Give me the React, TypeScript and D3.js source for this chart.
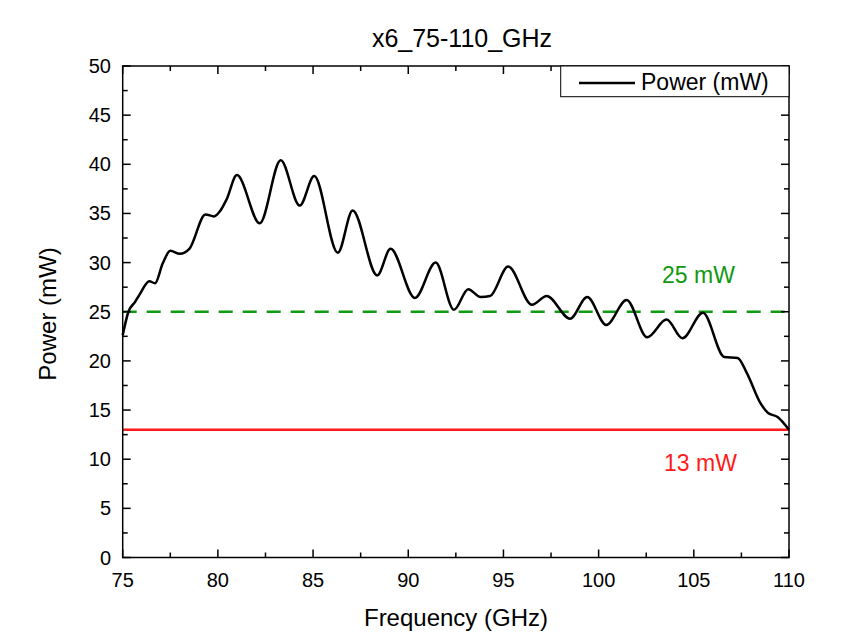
import { curveMonotoneX, line, range, scaleLinear } from "d3";

const frequency = [
  75.0, 75.3, 75.65, 75.9, 76.4, 76.7, 77.1, 77.5, 78.0, 78.5, 79.35, 79.8,
  80.1, 80.45, 81.0, 82.2, 83.3, 84.3, 85.06, 86.3, 87.08, 88.37, 89.07, 90.35,
  91.44, 92.4, 93.15, 93.8, 94.3, 95.25, 96.5, 97.27, 98.5, 99.4, 100.4,
  101.47, 102.55, 103.57, 104.4, 105.48, 106.6, 107.3, 107.8, 108.5, 108.9,
  109.4, 110.0,
];

const power = [
  22.6, 25.0, 26.0, 26.8, 28.1, 27.9, 29.9, 31.2, 30.9, 31.4, 34.9, 34.7,
  35.2, 36.4, 38.9, 34.0, 40.4, 35.8, 38.8, 31.0, 35.3, 28.7, 31.4, 26.4,
  30.0, 25.2, 27.3, 26.5, 26.6, 29.6, 25.7, 26.6, 24.3, 26.5, 23.65,
  26.2, 22.4, 24.2, 22.3, 24.9, 20.4, 20.3, 18.7, 15.7, 14.7,
  14.3, 13.0,
];

const xTicks = [75, 80, 85, 90, 95, 100, 105, 110];
const yTicks = [0, 5, 10, 15, 20, 25, 30, 35, 40, 45, 50];

const targetLevel = 25;
const minimumLevel = 13;

const font = "'Liberation Sans', Arial, sans-serif";

export default function App() {
  const width = 852;
  const height = 642;
  const plot = { left: 122.7, right: 789, top: 66, bottom: 557.5 };

  const x = scaleLinear().domain([75, 110]).range([plot.left, plot.right]);
  const y = scaleLinear().domain([0, 50]).range([plot.bottom, plot.top]);

  const points = frequency.map((f, i) => [f, power[i]] as [number, number]);
  const path = line<[number, number]>()
    .x((d) => x(d[0]))
    .y((d) => y(d[1]))
    .curve(curveMonotoneX)(points);

  const xMinor = range(77.5, 110, 5);
  const yMinor = range(2.5, 50, 5);
  const major = 8;
  const minor = 5;

  return (
    <svg
      width={width}
      height={height}
      style={{ position: "absolute", left: 0, top: 0, background: "#fff" }}
      fontFamily={font}
    >
      <text x={462} y={47} fontSize={25} textAnchor="middle">
        x6_75-110_GHz
      </text>

      {/* threshold lines */}
      <line
        x1={plot.left}
        x2={plot.right}
        y1={y(targetLevel)}
        y2={y(targetLevel)}
        stroke="#119911"
        strokeWidth={2.5}
        strokeDasharray="14 10"
      />
      <line
        x1={plot.left}
        x2={plot.right}
        y1={y(minimumLevel)}
        y2={y(minimumLevel)}
        stroke="#ff1a1a"
        strokeWidth={2.5}
      />
      <text x={662} y={283} fontSize={23} fill="#119911">
        25 mW
      </text>
      <text x={664} y={471} fontSize={23} fill="#ff1a1a">
        13 mW
      </text>

      <path d={path ?? ""} fill="none" stroke="#000" strokeWidth={2.5} />

      {/* frame */}
      <rect
        x={plot.left}
        y={plot.top}
        width={plot.right - plot.left}
        height={plot.bottom - plot.top}
        fill="none"
        stroke="#000"
        strokeWidth={1.5}
      />

      {/* x ticks */}
      <g stroke="#000" strokeWidth={1.5}>
        {xTicks.map((t) => (
          <g key={`xt-${t}`}>
            <line x1={x(t)} x2={x(t)} y1={plot.bottom} y2={plot.bottom - major} />
            <line x1={x(t)} x2={x(t)} y1={plot.top} y2={plot.top + major} />
          </g>
        ))}
        {xMinor.map((t) => (
          <g key={`xm-${t}`}>
            <line x1={x(t)} x2={x(t)} y1={plot.bottom} y2={plot.bottom - minor} />
            <line x1={x(t)} x2={x(t)} y1={plot.top} y2={plot.top + minor} />
          </g>
        ))}
        {yTicks.map((t) => (
          <g key={`yt-${t}`}>
            <line x1={plot.left} x2={plot.left + major} y1={y(t)} y2={y(t)} />
            <line x1={plot.right} x2={plot.right - major} y1={y(t)} y2={y(t)} />
          </g>
        ))}
        {yMinor.map((t) => (
          <g key={`ym-${t}`}>
            <line x1={plot.left} x2={plot.left + minor} y1={y(t)} y2={y(t)} />
            <line x1={plot.right} x2={plot.right - minor} y1={y(t)} y2={y(t)} />
          </g>
        ))}
      </g>

      <g fontSize={20}>
        {xTicks.map((t) => (
          <text key={`xl-${t}`} x={x(t)} y={587} textAnchor="middle">
            {t}
          </text>
        ))}
        {yTicks.map((t) => (
          <text key={`yl-${t}`} x={111} y={y(t) + 7} textAnchor="end">
            {t}
          </text>
        ))}
      </g>

      <text x={456} y={626} fontSize={24} textAnchor="middle">
        Frequency (GHz)
      </text>
      <text
        transform={`translate(56, 314) rotate(-90)`}
        fontSize={24}
        textAnchor="middle"
      >
        Power (mW)
      </text>

      {/* legend */}
      <rect
        x={560.7}
        y={plot.top}
        width={plot.right - 560.7}
        height={30.7}
        fill="#fff"
        stroke="#000"
        strokeWidth={1}
      />
      <line x1={579} x2={635} y1={83} y2={83} stroke="#000" strokeWidth={2.5} />
      <text x={641} y={90} fontSize={23}>
        Power (mW)
      </text>
    </svg>
  );
}
